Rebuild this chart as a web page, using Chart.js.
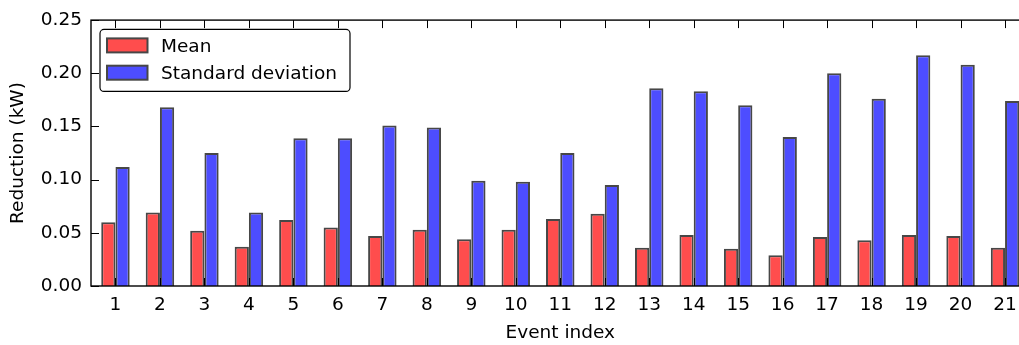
<!DOCTYPE html>
<html>
<head>
<meta charset="utf-8">
<script src="https://cdn.jsdelivr.net/npm/chart.js@4.4.1/dist/chart.umd.min.js"></script>
<style>
  html, body { margin: 0; padding: 0; background: #fff; overflow: hidden; }
  #wrap { width: 1038px; height: 345px; }
</style>
</head>
<body>
<div id="wrap"><canvas id="reductionChart" width="1038" height="345"></canvas></div>
<script>
// event numbers on the x axis
const eventIdx = [1, 2, 3, 4, 5, 6, 7, 8, 9, 10, 11, 12, 13, 14, 15, 16, 17, 18, 19, 20, 21];

// load reduction per event (kW)
const meanRed = [0.060, 0.069, 0.052, 0.037, 0.062, 0.055, 0.047, 0.053, 0.044, 0.053, 0.063,
                 0.068, 0.036, 0.048, 0.035, 0.029, 0.046, 0.043, 0.048, 0.047, 0.036];
const stdRed  = [0.112, 0.168, 0.125, 0.069, 0.139, 0.139, 0.151, 0.149, 0.099, 0.098, 0.125,
                 0.095, 0.186, 0.183, 0.170, 0.140, 0.200, 0.176, 0.217, 0.208, 0.174];

const yTicks = [0, 0.05, 0.10, 0.15, 0.20, 0.25];

const FONT = { family: '"DejaVu Sans", sans-serif', size: 18.5 };

// box around the plot plus inward tick marks on every side
const frameTicks = {
    id: 'frameTicks',
    afterDraw(chart) {
        const { ctx, chartArea: a, scales: { x, y } } = chart;
        const len = 8;
        ctx.save();
        ctx.strokeStyle = '#000';
        ctx.lineWidth = 1;
        ctx.beginPath();
        x.ticks.forEach(t => {
            const px = Math.round(x.getPixelForValue(t.value)) + 0.5;
            ctx.moveTo(px, a.top); ctx.lineTo(px, a.top + len);
            ctx.moveTo(px, a.bottom); ctx.lineTo(px, a.bottom - len);
        });
        y.ticks.forEach(t => {
            const py = Math.round(y.getPixelForValue(t.value)) + 0.5;
            ctx.moveTo(a.left, py); ctx.lineTo(a.left + len, py);
            ctx.moveTo(a.right, py); ctx.lineTo(a.right - len, py);
        });
        ctx.stroke();
        ctx.lineWidth = 1.4;
        ctx.strokeRect(a.left, a.top, a.right - a.left, a.bottom - a.top);
        ctx.restore();
    }
};

// framed legend in the upper left corner of the plot
const boxLegend = {
    id: 'boxLegend',
    afterDraw(chart) {
        const { ctx, chartArea: a } = chart;
        const x0 = a.left + 9, y0 = a.top + 9.3, w = 250, h = 62;
        ctx.save();
        ctx.beginPath();
        ctx.roundRect(x0, y0, w, h, 4);
        ctx.fillStyle = '#fff';
        ctx.fill();
        ctx.lineWidth = 1.2;
        ctx.strokeStyle = '#000';
        ctx.stroke();
        ctx.font = FONT.size + 'px ' + FONT.family;
        ctx.textBaseline = 'alphabetic';
        chart.data.datasets.forEach((ds, i) => {
            const cy = y0 + 16 + i * 27.3;
            ctx.fillStyle = ds.backgroundColor;
            ctx.fillRect(x0 + 7, cy - 7, 40.5, 14);
            ctx.strokeStyle = ds.borderColor;
            ctx.lineWidth = 2;
            ctx.strokeRect(x0 + 7, cy - 7, 40.5, 14);
            ctx.fillStyle = '#000';
            ctx.fillText(ds.label, x0 + 61, cy + 6.7);
        });
        ctx.restore();
    }
};

const ctx = document.getElementById('reductionChart').getContext('2d');
new Chart(ctx, {
    type: 'bar',
    data: {
        datasets: [{
            label: 'Mean',
            data: eventIdx.map((e, i) => ({ x: e, y: meanRed[i] })),
            backgroundColor: 'rgb(255, 77, 77)',
            borderColor: '#474747',
            borderWidth: 2
        }, {
            label: 'Standard deviation',
            data: eventIdx.map((e, i) => ({ x: e, y: stdRed[i] })),
            backgroundColor: 'rgb(77, 77, 255)',
            borderColor: '#474747',
            borderWidth: 2
        }]
    },
    options: {
        responsive: false,
        animation: false,
        datasets: { bar: { categoryPercentage: 0.64, barPercentage: 1 } },
        layout: { padding: { top: 19, right: 8.5, left: 0, bottom: 0 } },
        plugins: {
            legend: { display: false },
            tooltip: { enabled: false }
        },
        scales: {
            x: {
                type: 'linear',
                offset: false,
                bounds: 'data',
                min: 0.45,
                max: 21.55,
                afterBuildTicks: s => { s.ticks = eventIdx.map(v => ({ value: v })); },
                afterFit: s => { s.height = 59; },
                grid: { display: false, drawTicks: false, offset: false },
                border: { display: false },
                ticks: { padding: 8, color: '#000', font: FONT, autoSkip: false, maxRotation: 0,
                         callback: v => String(v) },
                title: { display: true, text: 'Event index', color: '#000', font: FONT,
                         padding: { top: 0, bottom: 0.3 } }
            },
            y: {
                min: 0,
                max: 0.25,
                afterBuildTicks: s => { s.ticks = yTicks.map(v => ({ value: v })); },
                afterFit: s => { s.width = 91; },
                grid: { display: false, drawTicks: false },
                border: { display: false },
                ticks: { padding: 9, color: '#000', font: FONT, callback: v => v.toFixed(2) },
                title: { display: true, text: 'Reduction (kW)', color: '#000', font: FONT,
                         padding: { top: 7.5, bottom: 0 } }
            }
        }
    },
    plugins: [frameTicks, boxLegend]
});
</script>
</body>
</html>
